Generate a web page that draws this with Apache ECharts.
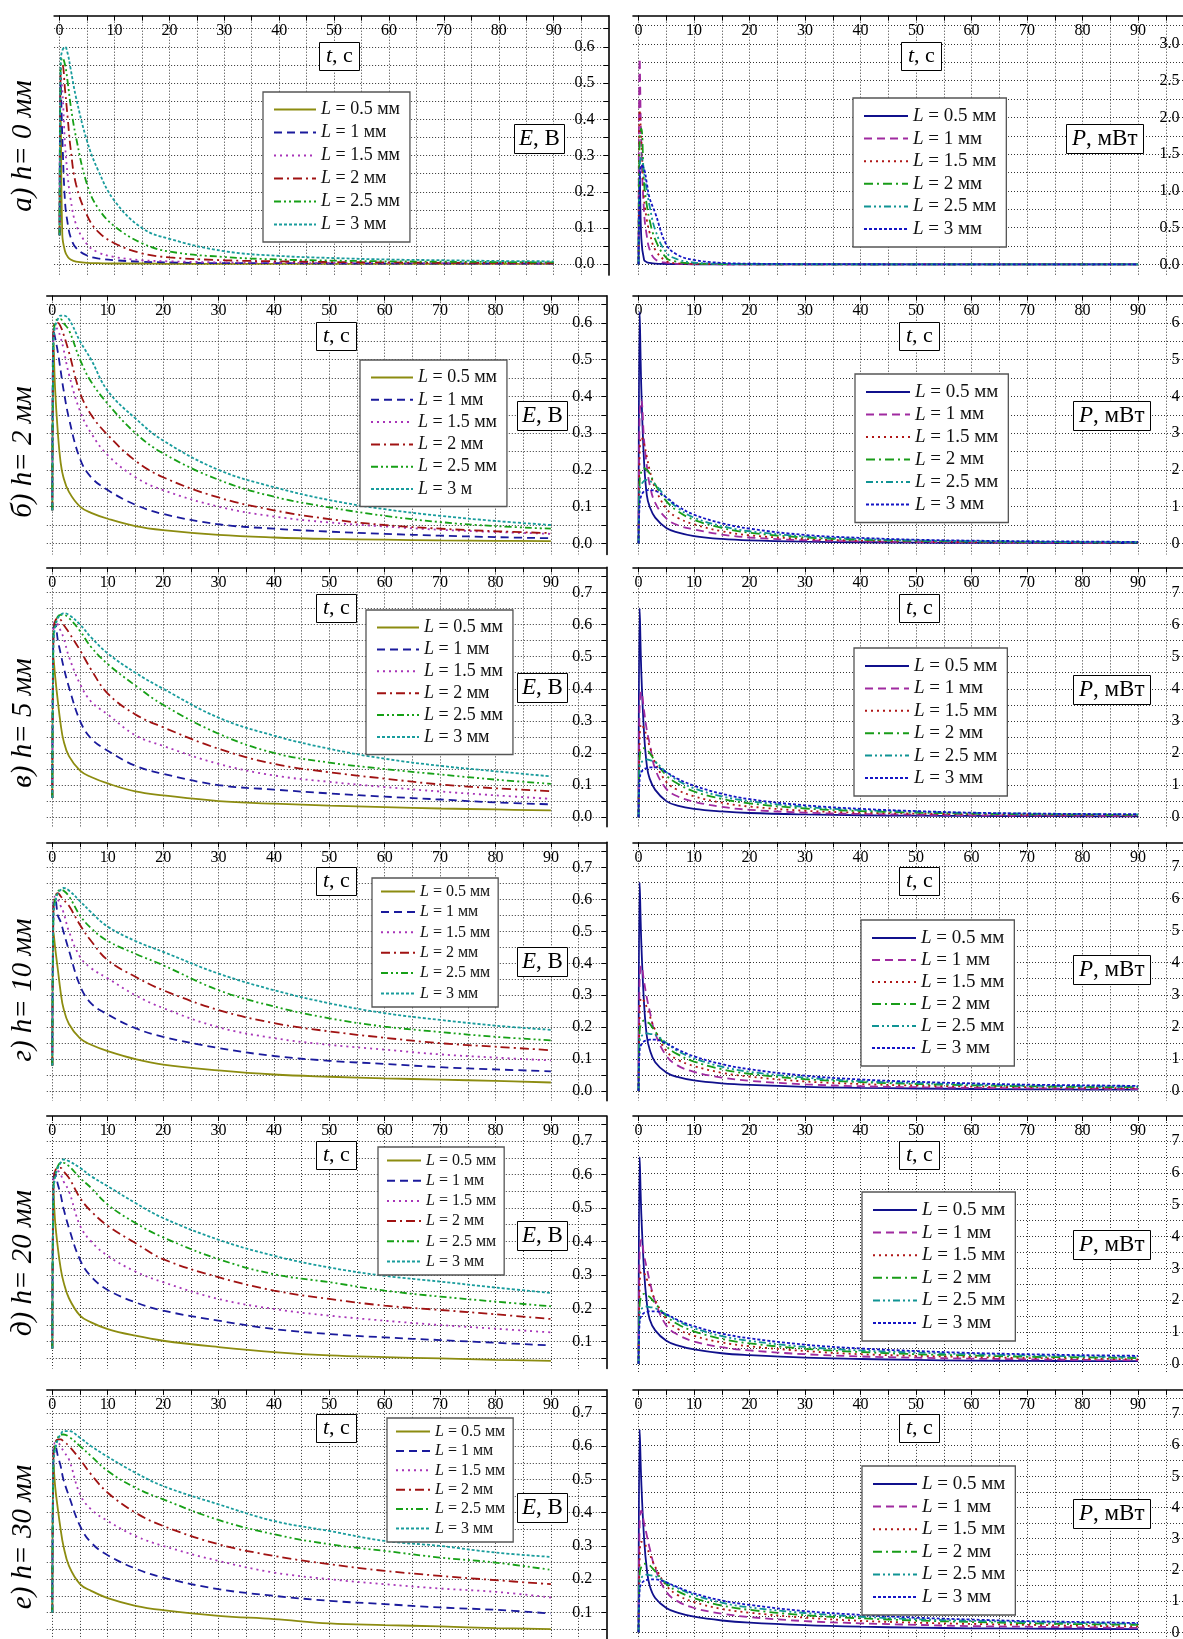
<!DOCTYPE html>
<html><head><meta charset="UTF-8">
<title>E(t), P(t)</title>
<script src="https://cdn.jsdelivr.net/npm/echarts@6/dist/echarts.min.js"></script>
<style>body{margin:0;background:#fff}#g1{width:1183px;height:1639px}</style>
</head>
<body>
<div id="g1"></div>
<script type="text/javascript">
// time points (s), shared by all curves
var T = [0, 0.2, 0.5, 1, 1.5, 2, 3, 5, 7, 10, 15, 20, 30, 40, 50, 60, 70, 80, 90];

// E, V  -- rows: L = 0.5, 1, 1.5, 2, 2.5, 3 mm
var E_h0 = [
  [0.08, 0.42, 0.08, 0.035, 0.02, 0.013, 0.007, 0.004, 0.003, 0.002, 0.002, 0.001, 0.001, 0.001, 0.001, 0.001, 0.001, 0.001, 0.001],
  [0.08, 0.5, 0.35, 0.17, 0.11, 0.075, 0.045, 0.024, 0.016, 0.011, 0.007, 0.005, 0.003, 0.003, 0.002, 0.002, 0.002, 0.002, 0.002],
  [0.08, 0.52, 0.48, 0.33, 0.24, 0.18, 0.11, 0.055, 0.033, 0.02, 0.011, 0.008, 0.005, 0.004, 0.003, 0.003, 0.003, 0.002, 0.002],
  [0.08, 0.54, 0.55, 0.48, 0.4, 0.32, 0.22, 0.135, 0.09, 0.058, 0.03, 0.019, 0.011, 0.008, 0.006, 0.005, 0.004, 0.004, 0.003],
  [0.08, 0.55, 0.57, 0.55, 0.5, 0.44, 0.35, 0.22, 0.155, 0.105, 0.058, 0.035, 0.02, 0.013, 0.01, 0.008, 0.007, 0.006, 0.005],
  [0.08, 0.56, 0.59, 0.6, 0.58, 0.54, 0.46, 0.34, 0.26, 0.175, 0.1, 0.07, 0.036, 0.023, 0.017, 0.013, 0.011, 0.009, 0.008]
];
var E_h2 = [
  [0.09, 0.55, 0.42, 0.3, 0.22, 0.18, 0.14, 0.1, 0.083, 0.067, 0.047, 0.036, 0.023, 0.016, 0.012, 0.01, 0.008, 0.007, 0.006],
  [0.09, 0.58, 0.56, 0.52, 0.47, 0.42, 0.34, 0.23, 0.18, 0.145, 0.105, 0.08, 0.052, 0.04, 0.032, 0.026, 0.021, 0.017, 0.014],
  [0.09, 0.58, 0.59, 0.58, 0.56, 0.53, 0.46, 0.36, 0.3, 0.24, 0.18, 0.145, 0.1, 0.073, 0.057, 0.046, 0.037, 0.031, 0.026],
  [0.09, 0.57, 0.6, 0.6, 0.59, 0.57, 0.52, 0.41, 0.35, 0.295, 0.225, 0.18, 0.125, 0.09, 0.066, 0.05, 0.04, 0.033, 0.028],
  [0.09, 0.56, 0.6, 0.61, 0.61, 0.6, 0.58, 0.5, 0.44, 0.38, 0.3, 0.245, 0.173, 0.127, 0.098, 0.075, 0.058, 0.047, 0.04],
  [0.09, 0.55, 0.59, 0.61, 0.62, 0.62, 0.61, 0.55, 0.5, 0.415, 0.34, 0.28, 0.2, 0.153, 0.118, 0.093, 0.075, 0.061, 0.05]
];
var E_h5 = [
  [0.06, 0.5, 0.44, 0.36, 0.29, 0.24, 0.19, 0.145, 0.125, 0.105, 0.08, 0.068, 0.05, 0.042, 0.036, 0.031, 0.027, 0.024, 0.021],
  [0.06, 0.59, 0.6, 0.55, 0.51, 0.47, 0.405, 0.3, 0.245, 0.207, 0.16, 0.135, 0.1, 0.086, 0.074, 0.064, 0.055, 0.046, 0.04],
  [0.06, 0.58, 0.61, 0.6, 0.58, 0.56, 0.5, 0.415, 0.36, 0.32, 0.255, 0.222, 0.166, 0.13, 0.11, 0.094, 0.08, 0.068, 0.057],
  [0.06, 0.57, 0.61, 0.62, 0.615, 0.6, 0.575, 0.52, 0.46, 0.385, 0.32, 0.28, 0.213, 0.166, 0.14, 0.12, 0.102, 0.09, 0.081],
  [0.06, 0.56, 0.6, 0.625, 0.63, 0.63, 0.62, 0.58, 0.53, 0.477, 0.41, 0.35, 0.26, 0.2, 0.17, 0.15, 0.133, 0.117, 0.104],
  [0.06, 0.55, 0.59, 0.62, 0.63, 0.635, 0.63, 0.6, 0.56, 0.51, 0.45, 0.4, 0.31, 0.254, 0.213, 0.182, 0.16, 0.143, 0.127]
];
var E_h10 = [
  [0.08, 0.5, 0.45, 0.38, 0.31, 0.26, 0.21, 0.165, 0.145, 0.125, 0.1, 0.083, 0.065, 0.052, 0.045, 0.04, 0.036, 0.032, 0.027],
  [0.08, 0.59, 0.6, 0.55, 0.53, 0.5, 0.44, 0.33, 0.275, 0.24, 0.197, 0.17, 0.135, 0.11, 0.095, 0.085, 0.075, 0.068, 0.062],
  [0.08, 0.58, 0.61, 0.6, 0.58, 0.56, 0.5, 0.42, 0.385, 0.353, 0.3, 0.26, 0.2, 0.166, 0.145, 0.13, 0.115, 0.105, 0.096],
  [0.08, 0.57, 0.61, 0.62, 0.61, 0.6, 0.58, 0.52, 0.47, 0.41, 0.358, 0.316, 0.254, 0.213, 0.187, 0.167, 0.15, 0.139, 0.128],
  [0.08, 0.56, 0.6, 0.625, 0.63, 0.628, 0.61, 0.55, 0.51, 0.47, 0.43, 0.394, 0.316, 0.265, 0.228, 0.202, 0.185, 0.17, 0.159],
  [0.08, 0.55, 0.59, 0.62, 0.63, 0.636, 0.628, 0.595, 0.56, 0.515, 0.47, 0.436, 0.368, 0.316, 0.275, 0.244, 0.223, 0.205, 0.192]
];
var E_h20 = [
  [0.08, 0.55, 0.46, 0.38, 0.32, 0.28, 0.23, 0.178, 0.158, 0.138, 0.118, 0.103, 0.084, 0.069, 0.059, 0.054, 0.05, 0.046, 0.043],
  [0.08, 0.59, 0.6, 0.57, 0.54, 0.5, 0.44, 0.345, 0.295, 0.255, 0.218, 0.193, 0.163, 0.138, 0.123, 0.113, 0.105, 0.097, 0.089],
  [0.08, 0.58, 0.61, 0.61, 0.6, 0.58, 0.55, 0.447, 0.4, 0.357, 0.31, 0.278, 0.228, 0.198, 0.178, 0.163, 0.15, 0.139, 0.128],
  [0.08, 0.57, 0.61, 0.62, 0.62, 0.61, 0.59, 0.53, 0.49, 0.447, 0.395, 0.347, 0.293, 0.253, 0.228, 0.208, 0.195, 0.182, 0.168],
  [0.08, 0.56, 0.6, 0.625, 0.635, 0.635, 0.625, 0.59, 0.56, 0.51, 0.455, 0.412, 0.347, 0.302, 0.278, 0.253, 0.235, 0.22, 0.206],
  [0.08, 0.55, 0.59, 0.62, 0.635, 0.645, 0.64, 0.62, 0.595, 0.565, 0.515, 0.47, 0.405, 0.357, 0.322, 0.297, 0.28, 0.262, 0.246]
];
var E_h30 = [
  [0.1, 0.55, 0.48, 0.41, 0.35, 0.3, 0.24, 0.185, 0.165, 0.143, 0.12, 0.107, 0.09, 0.08, 0.067, 0.062, 0.058, 0.053, 0.05],
  [0.1, 0.59, 0.6, 0.57, 0.54, 0.5, 0.45, 0.36, 0.31, 0.272, 0.232, 0.205, 0.17, 0.15, 0.135, 0.125, 0.115, 0.108, 0.097],
  [0.1, 0.58, 0.61, 0.61, 0.6, 0.585, 0.56, 0.455, 0.41, 0.375, 0.33, 0.3, 0.255, 0.22, 0.2, 0.185, 0.172, 0.162, 0.145],
  [0.1, 0.57, 0.61, 0.62, 0.62, 0.615, 0.6, 0.56, 0.515, 0.46, 0.4, 0.36, 0.305, 0.27, 0.245, 0.225, 0.21, 0.197, 0.185],
  [0.1, 0.56, 0.6, 0.625, 0.635, 0.635, 0.628, 0.6, 0.57, 0.525, 0.475, 0.44, 0.378, 0.335, 0.305, 0.285, 0.265, 0.25, 0.228],
  [0.1, 0.55, 0.59, 0.62, 0.635, 0.645, 0.645, 0.625, 0.6, 0.568, 0.52, 0.48, 0.425, 0.375, 0.345, 0.315, 0.3, 0.28, 0.267]
];

// P, mW
var P_h0 = [
  [0, 1.3, 0.35, 0.06, 0.03, 0.02, 0.01, 0.005, 0.003, 0.002, 0.001, 0.001, 0, 0, 0, 0, 0, 0, 0],
  [0, 2.8, 1.6, 0.7, 0.38, 0.2, 0.07, 0.02, 0.008, 0.004, 0.002, 0.001, 0, 0, 0, 0, 0, 0, 0],
  [0, 2.1, 1.7, 0.9, 0.6, 0.43, 0.2, 0.045, 0.015, 0.006, 0.002, 0.001, 0, 0, 0, 0, 0, 0, 0],
  [0, 1.7, 1.85, 1.1, 0.8, 0.6, 0.34, 0.09, 0.035, 0.012, 0.004, 0.002, 0.001, 0, 0, 0, 0, 0, 0],
  [0, 1.3, 1.5, 1.25, 1.0, 0.79, 0.47, 0.16, 0.07, 0.025, 0.008, 0.004, 0.002, 0.001, 0, 0, 0, 0, 0],
  [0, 1.0, 1.35, 1.3, 1.1, 0.9, 0.7, 0.27, 0.13, 0.06, 0.02, 0.01, 0.004, 0.002, 0.001, 0.001, 0.001, 0.001, 0.001]
];
var P_h2 = [
  [0, 6.3, 4.2, 2.2, 1.3, 1.0, 0.7, 0.42, 0.3, 0.2, 0.12, 0.08, 0.045, 0.03, 0.02, 0.015, 0.012, 0.01, 0.01],
  [0, 3.5, 3.9, 2.8, 2.1, 1.6, 1.1, 0.68, 0.5, 0.38, 0.24, 0.16, 0.085, 0.055, 0.038, 0.028, 0.022, 0.017, 0.013],
  [0, 2.4, 2.9, 2.7, 2.35, 2.0, 1.5, 0.95, 0.7, 0.52, 0.33, 0.22, 0.12, 0.075, 0.05, 0.035, 0.028, 0.022, 0.018],
  [0, 1.7, 1.95, 2.05, 2.0, 1.9, 1.6, 1.15, 0.88, 0.64, 0.42, 0.29, 0.16, 0.1, 0.07, 0.05, 0.04, 0.03, 0.025],
  [0, 1.45, 1.6, 1.7, 1.73, 1.7, 1.6, 1.25, 0.97, 0.7, 0.47, 0.33, 0.19, 0.12, 0.08, 0.06, 0.045, 0.035, 0.03],
  [0, 1.1, 1.3, 1.42, 1.45, 1.45, 1.43, 1.25, 1.02, 0.78, 0.55, 0.4, 0.23, 0.15, 0.1, 0.075, 0.06, 0.05, 0.04]
];
var P_h5 = [
  [0, 6.5, 4.5, 2.6, 1.6, 1.2, 0.85, 0.5, 0.36, 0.26, 0.18, 0.13, 0.085, 0.06, 0.045, 0.038, 0.032, 0.028, 0.025],
  [0, 3.5, 3.9, 3.3, 2.7, 2.3, 1.5, 0.88, 0.65, 0.48, 0.32, 0.23, 0.14, 0.1, 0.08, 0.06, 0.05, 0.045, 0.04],
  [0, 2.4, 2.9, 2.75, 2.5, 2.2, 1.7, 1.1, 0.85, 0.65, 0.45, 0.33, 0.2, 0.14, 0.11, 0.09, 0.075, 0.065, 0.055],
  [0, 1.9, 2.1, 2.15, 2.1, 2.0, 1.75, 1.3, 1.05, 0.8, 0.57, 0.43, 0.27, 0.19, 0.14, 0.11, 0.09, 0.08, 0.07],
  [0, 1.55, 1.7, 1.78, 1.8, 1.78, 1.72, 1.4, 1.15, 0.9, 0.65, 0.5, 0.32, 0.22, 0.17, 0.13, 0.11, 0.095, 0.085],
  [0, 1.2, 1.4, 1.5, 1.53, 1.55, 1.55, 1.4, 1.2, 0.98, 0.73, 0.56, 0.37, 0.26, 0.19, 0.14, 0.115, 0.1, 0.09]
];
var P_h10 = [
  [0, 6.5, 4.6, 2.7, 1.7, 1.3, 0.9, 0.58, 0.44, 0.33, 0.24, 0.19, 0.13, 0.1, 0.08, 0.065, 0.055, 0.048, 0.042],
  [0, 3.5, 3.9, 3.4, 2.9, 2.5, 1.8, 1.1, 0.8, 0.6, 0.42, 0.32, 0.21, 0.15, 0.12, 0.1, 0.085, 0.075, 0.065],
  [0, 2.4, 2.9, 2.8, 2.6, 2.35, 1.9, 1.25, 0.98, 0.78, 0.57, 0.45, 0.3, 0.22, 0.17, 0.14, 0.12, 0.1, 0.09],
  [0, 1.9, 2.1, 2.2, 2.15, 2.1, 1.85, 1.4, 1.15, 0.92, 0.68, 0.54, 0.37, 0.28, 0.22, 0.18, 0.15, 0.13, 0.12],
  [0, 1.55, 1.7, 1.78, 1.8, 1.78, 1.75, 1.5, 1.25, 1.02, 0.76, 0.6, 0.42, 0.31, 0.25, 0.2, 0.17, 0.15, 0.14],
  [0, 1.3, 1.45, 1.55, 1.58, 1.6, 1.6, 1.48, 1.3, 1.08, 0.84, 0.68, 0.48, 0.36, 0.29, 0.24, 0.2, 0.18, 0.16]
];
var P_h20 = [
  [0, 6.5, 4.7, 2.9, 1.9, 1.4, 1.05, 0.72, 0.58, 0.45, 0.33, 0.27, 0.19, 0.15, 0.12, 0.1, 0.09, 0.085, 0.08],
  [0, 3.5, 3.9, 3.4, 3.0, 2.6, 1.95, 1.2, 0.92, 0.7, 0.52, 0.42, 0.3, 0.23, 0.19, 0.16, 0.14, 0.12, 0.11],
  [0, 2.4, 2.9, 2.85, 2.65, 2.45, 2.0, 1.4, 1.1, 0.88, 0.67, 0.55, 0.4, 0.3, 0.25, 0.21, 0.18, 0.16, 0.14],
  [0, 1.9, 2.1, 2.2, 2.15, 2.1, 1.9, 1.5, 1.25, 1.02, 0.78, 0.64, 0.47, 0.37, 0.3, 0.26, 0.22, 0.2, 0.18],
  [0, 1.6, 1.72, 1.78, 1.8, 1.78, 1.75, 1.55, 1.35, 1.12, 0.87, 0.72, 0.53, 0.42, 0.35, 0.3, 0.26, 0.23, 0.21],
  [0, 1.35, 1.5, 1.6, 1.63, 1.65, 1.65, 1.55, 1.38, 1.18, 0.95, 0.8, 0.6, 0.48, 0.4, 0.34, 0.3, 0.27, 0.25]
];
var P_h30 = [
  [0, 6.5, 4.8, 3.0, 2.0, 1.5, 1.1, 0.78, 0.63, 0.5, 0.38, 0.31, 0.23, 0.18, 0.15, 0.13, 0.12, 0.11, 0.1],
  [0, 3.5, 3.9, 3.5, 3.1, 2.7, 2.05, 1.3, 1.0, 0.78, 0.6, 0.49, 0.36, 0.29, 0.24, 0.2, 0.18, 0.16, 0.14],
  [0, 2.4, 2.9, 2.85, 2.7, 2.5, 2.1, 1.5, 1.2, 0.97, 0.75, 0.63, 0.47, 0.37, 0.31, 0.27, 0.24, 0.21, 0.19],
  [0, 1.9, 2.1, 2.2, 2.18, 2.15, 1.95, 1.55, 1.32, 1.1, 0.86, 0.72, 0.55, 0.45, 0.38, 0.33, 0.29, 0.26, 0.24],
  [0, 1.6, 1.75, 1.82, 1.85, 1.83, 1.8, 1.6, 1.42, 1.2, 0.95, 0.8, 0.62, 0.5, 0.42, 0.37, 0.33, 0.3, 0.27],
  [0, 1.4, 1.55, 1.65, 1.68, 1.7, 1.7, 1.6, 1.45, 1.25, 1.02, 0.88, 0.68, 0.56, 0.47, 0.41, 0.36, 0.33, 0.3]
];

// ticks and tick labels
var xTicks = [0, 5, 10, 15, 20, 25, 30, 35, 40, 45, 50, 55, 60, 65, 70, 75, 80, 85, 90, 95];
var xLabels = [0, 10, 20, 30, 40, 50, 60, 70, 80, 90];
var eTicks6 = [0, 0.05, 0.1, 0.15, 0.2, 0.25, 0.3, 0.35, 0.4, 0.45, 0.5, 0.55, 0.6, 0.65];
var eLabels6 = [0, 0.1, 0.2, 0.3, 0.4, 0.5, 0.6];
var eTicks7 = [0, 0.05, 0.1, 0.15, 0.2, 0.25, 0.3, 0.35, 0.4, 0.45, 0.5, 0.55, 0.6, 0.65, 0.7, 0.75];
var eLabels7 = [0, 0.1, 0.2, 0.3, 0.4, 0.5, 0.6, 0.7];
var pTicks3 = [0, 0.25, 0.5, 0.75, 1, 1.25, 1.5, 1.75, 2, 2.25, 2.5, 2.75, 3, 3.25];
var pLabels3 = [0, 0.5, 1, 1.5, 2, 2.5, 3];
var pTicks6 = [0, 0.5, 1, 1.5, 2, 2.5, 3, 3.5, 4, 4.5, 5, 5.5, 6, 6.5];
var pLabels6 = [0, 1, 2, 3, 4, 5, 6];
var pTicks7 = [0, 0.5, 1, 1.5, 2, 2.5, 3, 3.5, 4, 4.5, 5, 5.5, 6, 6.5, 7, 7.5];
var pLabels7 = [0, 1, 2, 3, 4, 5, 6, 7];

var lNames = ['0.5 мм', '1 мм', '1.5 мм', '2 мм', '2.5 мм', '3 мм'];
var lNamesB = ['0.5 мм', '1 мм', '1.5 мм', '2 мм', '2.5 мм', '3 м'];
var rowNames = ['а) h= 0 мм', 'б) h= 2 мм', 'в) h= 5 мм', 'г) h= 10 мм', 'д) h= 20 мм', 'е) h= 30 мм'];

var eColors = ['#8c8c10', '#1a1a9c', '#a834b8', '#a01212', '#16a016', '#189c9c'];
var pColors = ['#10108c', '#a02aa0', '#b01616', '#189c18', '#109494', '#1414c4'];
var dashes = ['solid', [8, 5], [2, 4], [9, 4, 2, 4], [7, 3, 2, 3, 2, 3], [3, 2]];

var FONT = '"Liberation Serif", "Times New Roman", serif';

// panel layout (pixels); leg = [left, top, fontSize, itemGap, itemWidth]
var panels = [
  {col: 0, d: E_h0, gl: 54.1, gw: 554.5, top: 15.7, h: 259.4, min: -0.03, max: 0.686, tk: eTicks6, lb: eLabels6, dec: 1, names: lNames, leg: [263, 92, 18, 4, 42]},
  {col: 0, d: E_h2, gl: 46.8, gw: 559.5, top: 295.7, h: 258.7, min: -0.03, max: 0.674, tk: eTicks6, lb: eLabels6, dec: 1, names: lNamesB, leg: [360, 360, 18, 3.3, 42]},
  {col: 0, d: E_h5, gl: 46.8, gw: 559.5, top: 567.4, h: 259.4, min: -0.03, max: 0.778, tk: eTicks7, lb: eLabels7, dec: 1, names: lNames, leg: [366, 610, 18, 2.9, 42]},
  {col: 0, d: E_h10, gl: 46.8, gw: 559.5, top: 842.3, h: 258.4, min: -0.03, max: 0.779, tk: eTicks7, lb: eLabels7, dec: 1, names: lNames, leg: [372, 878, 16, 3.4, 34]},
  {col: 0, d: E_h20, gl: 46.8, gw: 559.5, top: 1116, h: 252.5, min: 0.02, max: 0.775, tk: eTicks7, lb: eLabels7, dec: 1, names: lNames, leg: [378, 1147, 16, 3.2, 34]},
  {col: 0, d: E_h30, gl: 46.8, gw: 559.5, top: 1389.9, h: 265.8, min: -0.03, max: 0.769, tk: eTicks7, lb: eLabels7, dec: 1, names: lNames, leg: [387, 1418, 16, 2.4, 34]},
  {col: 1, d: P_h0, gl: 633, gw: 560.6, top: 15.7, h: 259.7, min: -0.15, max: 3.384, tk: pTicks3, lb: pLabels3, dec: 1, names: lNames, leg: [853, 98, 19, 2.6, 44]},
  {col: 1, d: P_h2, gl: 633, gw: 560.6, top: 295.7, h: 258.7, min: -0.3, max: 6.74, tk: pTicks6, lb: pLabels6, dec: 0, names: lNames, leg: [855, 374, 19, 2.5, 44]},
  {col: 1, d: P_h5, gl: 633, gw: 560.6, top: 567.4, h: 259.4, min: -0.3, max: 7.78, tk: pTicks7, lb: pLabels7, dec: 0, names: lNames, leg: [854, 648, 19, 2.4, 44]},
  {col: 1, d: P_h10, gl: 633, gw: 560.6, top: 842.3, h: 258.4, min: -0.3, max: 7.75, tk: pTicks7, lb: pLabels7, dec: 0, names: lNames, leg: [861, 920, 19, 2, 44]},
  {col: 1, d: P_h20, gl: 633, gw: 560.6, top: 1116, h: 257.3, min: -0.3, max: 7.79, tk: pTicks7, lb: pLabels7, dec: 0, names: lNames, leg: [862, 1192, 19, 2.6, 44]},
  {col: 1, d: P_h30, gl: 633, gw: 560.6, top: 1389.9, h: 251.8, min: -0.3, max: 7.77, tk: pTicks7, lb: pLabels7, dec: 0, names: lNames, leg: [862, 1466, 19, 2.6, 44]}
];
var tBoxY = [42, 322, 594, 867, 1141, 1414];
var eBoxY = [124, 401, 673, 947, 1221, 1493];
var pBoxY = [124, 401, 675, 955, 1230, 1499];
var rowY = [146, 452, 723, 990, 1263, 1537];

var grids = [], xAxes = [], yAxes = [], series = [], legends = [], titles = [], graphics = [];
var legendText = {};
var gridLine = {show: true, lineStyle: {type: [1, 2], color: '#333', width: 1}};

panels.forEach(function (p, k) {
  grids.push({left: p.gl, top: p.top, width: p.gw, height: p.h, containLabel: false, outerBoundsMode: 'none'});
  xAxes.push({
    gridIndex: k, type: 'value', position: 'top', min: -1, max: 100,
    axisLine: {show: true, onZero: false, lineStyle: {color: '#000', width: 1.6}},
    axisTick: {show: true, inside: true, length: 5, customValues: xTicks, lineStyle: {color: '#000'}},
    axisLabel: {show: true, inside: true, margin: 7, customValues: xLabels,
      fontFamily: FONT, fontSize: 16, color: '#000'},
    splitLine: gridLine
  });
  yAxes.push({
    gridIndex: k, type: 'value', position: 'right', min: p.min, max: p.max,
    axisLine: {show: true, onZero: false, lineStyle: {color: '#000', width: 1.6}},
    axisTick: {show: true, inside: true, length: 5, customValues: p.tk, lineStyle: {color: '#000'}},
    axisLabel: {show: true, inside: true, margin: 14, customValues: p.lb,
      fontFamily: FONT, fontSize: 16, color: '#000',
      formatter: function (v) { return v.toFixed(p.dec); }},
    splitLine: gridLine
  });
  var colors = p.col ? pColors : eColors;
  var names = [];
  p.d.forEach(function (vals, j) {
    var nm = 'g' + k + '_' + j;
    names.push(nm);
    legendText[nm] = p.names[j];
    series.push({
      type: 'line', name: nm, xAxisIndex: k, yAxisIndex: k,
      data: T.map(function (t, i) { return [t, vals[i]]; }),
      symbol: 'none', showSymbol: false, smooth: 0.4,
      lineStyle: {color: colors[j], width: 1.8, type: dashes[j]},
      itemStyle: {color: colors[j]}
    });
  });
  var fs = p.leg[2], lh = fs + 1;
  legends.push({
    orient: 'vertical', left: p.leg[0], top: p.leg[1], data: names,
    itemWidth: p.leg[4], itemHeight: 12, itemGap: p.leg[3],
    padding: fs > 16 ? [8, 10] : [5, 8],
    borderColor: '#555', borderWidth: 1.3, backgroundColor: '#fff',
    selectedMode: false, itemStyle: {opacity: 0},
    formatter: function (n) { return '{i|L} = ' + legendText[n]; },
    textStyle: {fontFamily: FONT, fontSize: fs, lineHeight: lh, color: '#111',
      rich: {i: {fontFamily: FONT, fontSize: fs, lineHeight: lh, fontStyle: 'italic', color: '#111'}}}
  });
});

function box(text, left, top, fs, pad) {
  return {
    text: text, left: left, top: top, padding: pad,
    borderColor: '#000', borderWidth: 1, backgroundColor: '#fff',
    textStyle: {fontFamily: FONT, fontSize: fs, fontWeight: 'normal', color: '#000', lineHeight: fs + 1,
      rich: {i: {fontFamily: FONT, fontSize: fs, fontWeight: 'normal', fontStyle: 'italic', color: '#000', lineHeight: fs + 1}}}
  };
}
for (var r = 0; r < 6; r++) {
  titles.push(box('{i|t}, с', r === 0 ? 319 : 316, tBoxY[r], 22, [3, 7]));
  titles.push(box('{i|t}, с', r === 0 ? 901 : 899, tBoxY[r], 22, [3, 7]));
  titles.push(box('{i|E}, В', r === 0 ? 514 : 517, eBoxY[r], 23, [3, 5]));
  titles.push(box('{i|P}, мВт', r === 0 ? 1066 : 1073, pBoxY[r], 23, [3, 6]));
  graphics.push({
    type: 'text', x: 23, y: rowY[r], rotation: Math.PI / 2,
    style: {text: rowNames[r], font: 'italic 29px ' + FONT, fill: '#000',
      align: 'center', verticalAlign: 'middle', textAlign: 'center', textVerticalAlign: 'middle'}
  });
}

var myChart = echarts.init(document.getElementById('g1'));
myChart.setOption({
  animation: false,
  backgroundColor: '#fff',
  grid: grids, xAxis: xAxes, yAxis: yAxes,
  series: series, legend: legends, title: titles, graphic: graphics
});
</script>
</body></html>
